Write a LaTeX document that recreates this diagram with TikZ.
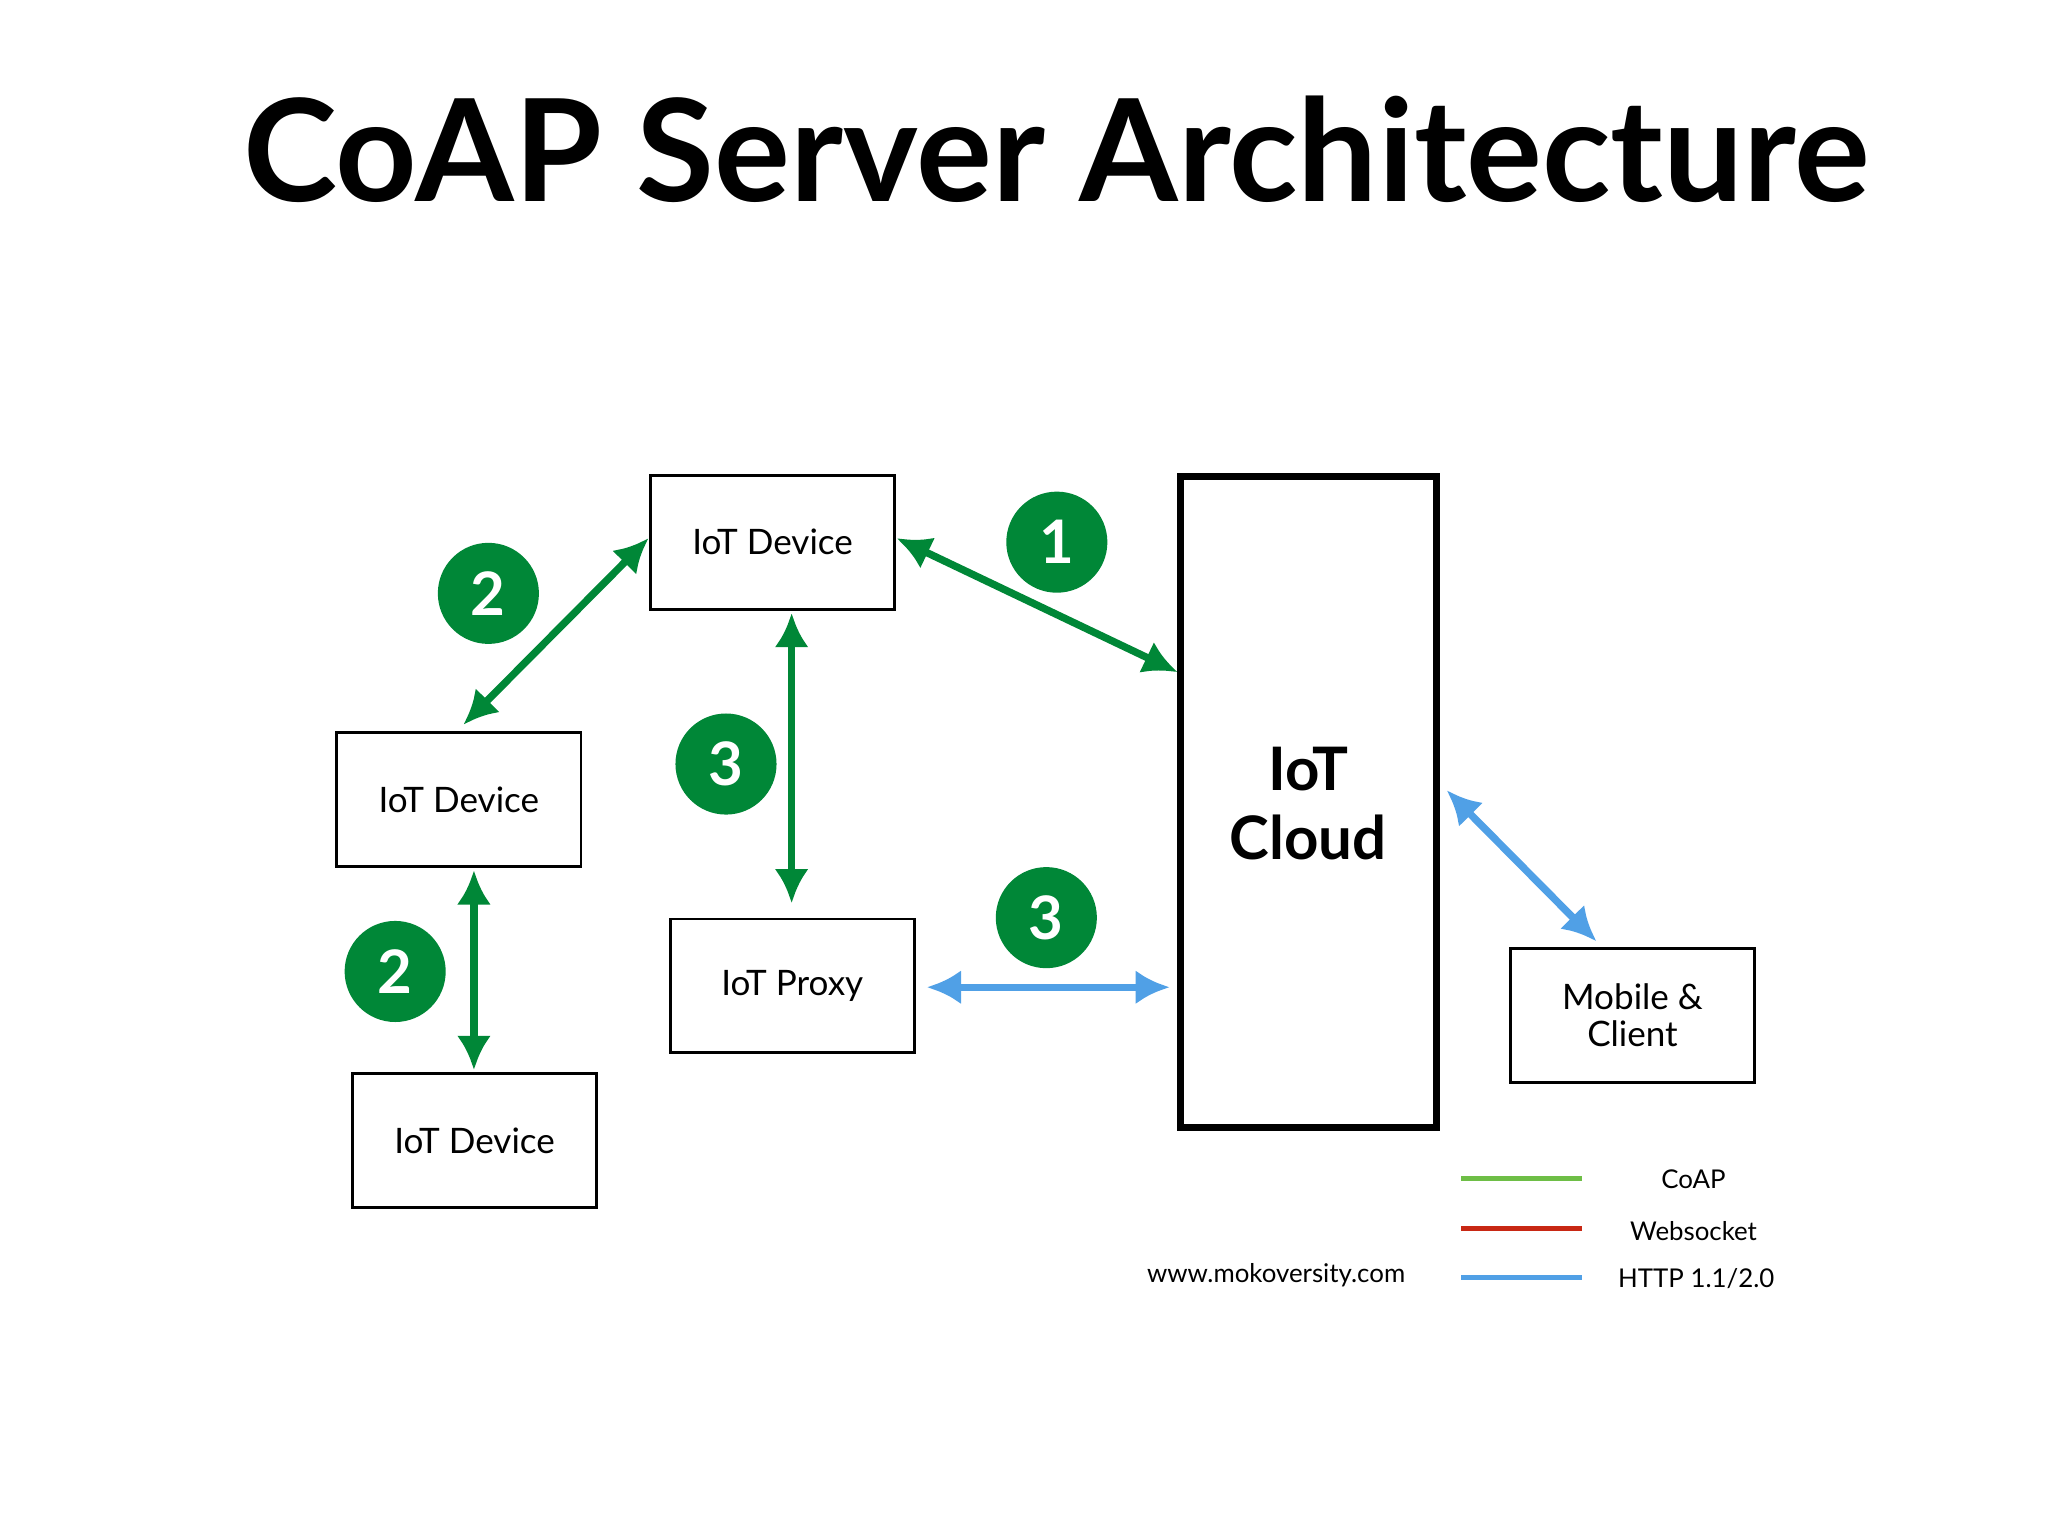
\documentclass[tikz,border=0pt]{standalone}
\usepackage{fontspec}
\setmainfont{Lato}
\usetikzlibrary{arrows.meta}
\definecolor{cgreen}{RGB}{0,135,55}
\definecolor{cblue}{RGB}{80,160,230}
\definecolor{lgreen}{RGB}{110,190,70}
\definecolor{lred}{RGB}{200,40,20}
\begin{document}
\begin{tikzpicture}[
  box/.style={draw, line width=0.6pt, minimum width=1.86cm, minimum height=1.02cm, font=\fontsize{7.6}{9}\selectfont, align=center},
  num/.style={circle, fill=cgreen, minimum size=0.77cm, inner sep=0, text=white, font=\bfseries\fontsize{13}{13}\selectfont},
  garr/.style={cgreen, line width=1.6pt, {Latex[length=0.26cm,width=0.26cm]}-{Latex[length=0.26cm,width=0.26cm]}},
  barr/.style={cblue, line width=1.6pt, {Latex[length=0.26cm,width=0.26cm]}-{Latex[length=0.26cm,width=0.26cm]}},
  leg/.style={font=\fontsize{5.6}{7}\selectfont}
]
\useasboundingbox (0,0) rectangle (15.6,11.7);
% title
\node[font=\bfseries\fontsize{30.8}{34}\selectfont] (title) at (8.05,10.56) {CoAP Server Architecture};
% boxes
\node[box] (top) at (5.885,7.57) {IoT Device};
\node[box] (left) at (3.495,5.61) {IoT Device};
\node[box] (bot) at (3.615,3.01) {IoT Device};
\node[box] (proxy) at (6.035,4.19) {IoT Proxy};
\node[draw, line width=1.6pt, minimum width=1.95cm, minimum height=4.96cm] (cloud) at (9.965,5.59) {};
\node[font=\bfseries\fontsize{13}{15}\selectfont, align=center] (cloudt) at (9.965,5.58) {IoT\\Cloud};
\node[box, font=\fontsize{7.6}{8}\selectfont] (mobile) at (12.435,3.965) {Mobile \&\\Client};
% arrow end points
\coordinate (a1) at (6.83,7.60);
\coordinate (b1) at (8.97,6.58);
\coordinate (a2) at (4.94,7.60);
\coordinate (b2) at (3.53,6.18);
\coordinate (a3) at (6.03,7.03);
\coordinate (b3) at (6.03,4.82);
\coordinate (a4) at (3.61,5.07);
\coordinate (b4) at (3.61,3.55);
\coordinate (a5) at (7.06,4.18);
\coordinate (b5) at (8.91,4.18);
\coordinate (a6) at (11.02,5.68);
\coordinate (b6) at (12.16,4.53);
\draw[garr] (a1) -- (b1);
\draw[garr] (a2) -- (b2);
\draw[garr] (a3) -- (b3);
\draw[garr] (a4) -- (b4);
\draw[barr] (a5) -- (b5);
\draw[barr] (a6) -- (b6);
% numbers
\node[num] (n1) at (8.05,7.57) {1};
\node[num] (n2a) at (3.72,7.18) {2};
\node[num] (n3a) at (5.53,5.88) {3};
\node[num] (n3b) at (7.97,4.71) {3};
\node[num] (n2b) at (3.01,4.30) {2};
% legend
\coordinate (l1a) at (11.13,2.72); \coordinate (l1b) at (12.05,2.72);
\coordinate (l2a) at (11.13,2.34); \coordinate (l2b) at (12.05,2.34);
\coordinate (l3a) at (11.13,1.97); \coordinate (l3b) at (12.05,1.97);
\draw[lgreen, line width=1.1pt] (l1a) -- (l1b);
\draw[lred, line width=1.1pt] (l2a) -- (l2b);
\draw[cblue, line width=1.1pt] (l3a) -- (l3b);
\node[leg] (t1) at (12.90,2.72) {CoAP};
\node[leg] (t2) at (12.90,2.32) {Websocket};
\node[leg] (t3) at (12.92,1.96) {HTTP 1.1/2.0};
\node[leg] (url) at (9.72,1.99) {www.mokoversity.com};
\end{tikzpicture}
\end{document}
